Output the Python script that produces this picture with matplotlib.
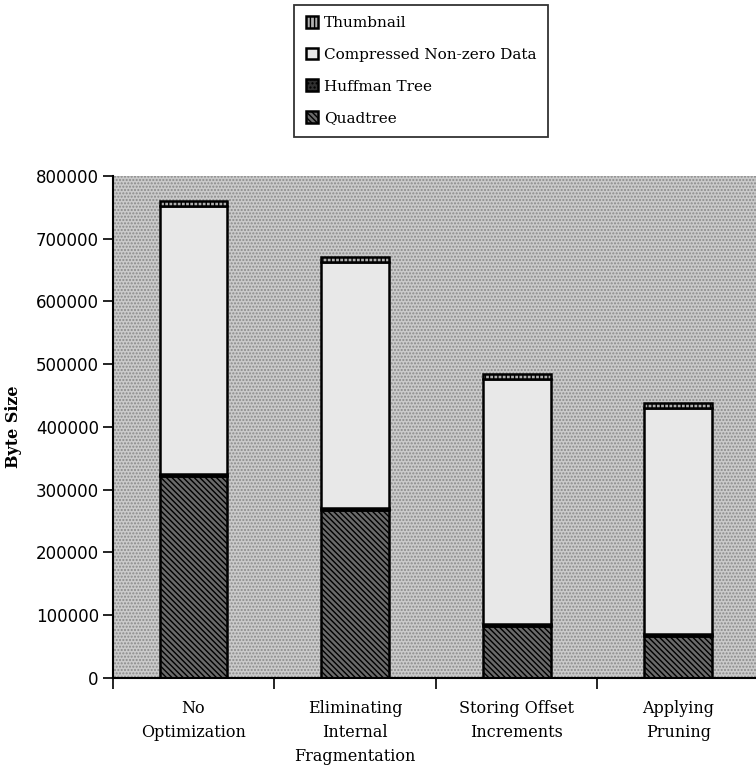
import matplotlib
matplotlib.use('Agg')
import matplotlib.pyplot as plt
from matplotlib.patches import Rectangle
import numpy as np

plt.rcParams['hatch.linewidth'] = 1.0

categories = ['No\nOptimization', 'Eliminating\nInternal\nFragmentation',
              'Storing Offset\nIncrements', 'Applying\nPruning']
quadtree = [322000, 268000, 83000, 67000]
huffman = [3000, 3000, 3000, 3000]
compressed = [427000, 392000, 391000, 360000]
thumbnail = [8000, 8000, 8000, 8000]

fig = plt.figure(figsize=(7.56, 7.72), dpi=100)
ax = fig.add_axes([0.149, 0.122, 0.855, 0.650])

# dotted grey plot area
ax.patch.set_visible(False)
bg = Rectangle((0, 0), 1, 1, transform=ax.transAxes, facecolor='#cacaca',
               edgecolor='#8a8a8a', hatch='.....', linewidth=0, zorder=0)
ax.add_patch(bg)

x = np.arange(len(categories))
w = 0.42
bottom = np.zeros(len(categories))

b1 = ax.bar(x, quadtree, w, bottom=bottom, facecolor='#6a6a6a', edgecolor='black',
            hatch='\\\\\\\\\\\\', linewidth=1.8, label='Quadtree', zorder=2)
bottom += quadtree
b2 = ax.bar(x, huffman, w, bottom=bottom, facecolor='#303030', edgecolor='black',
            hatch='....', linewidth=1.8, label='Huffman Tree', zorder=2)
bottom += huffman
b3 = ax.bar(x, compressed, w, bottom=bottom, facecolor='#e8e8e8', edgecolor='black',
            linewidth=1.8, label='Compressed Non-zero Data', zorder=2)
bottom += compressed
b4 = ax.bar(x, thumbnail, w, bottom=bottom, facecolor='#b0b0b0', edgecolor='black',
            hatch='||||', linewidth=1.8, label='Thumbnail', zorder=2)

ax.set_xlim(-0.5, 3.5)
ax.set_ylim(0, 800000)
ax.set_yticks(np.arange(0, 800001, 100000))
ax.set_yticklabels([str(v) for v in range(0, 800001, 100000)],
                   fontsize=12, family='DejaVu Sans')
ax.tick_params(axis='y', direction='out', length=7, width=1.2, pad=3)

ax.set_xticks(x)
ax.set_xticklabels(categories, fontsize=11.5, family='DejaVu Serif', linespacing=1.55)
ax.tick_params(axis='x', which='major', length=0, pad=16)
ax.set_xticks(np.arange(-0.5, 3.6, 1.0), minor=True)
ax.tick_params(axis='x', which='minor', direction='out', length=8, width=1.2)

for s in ['top', 'right']:
    ax.spines[s].set_visible(False)
for s in ['left', 'bottom']:
    ax.spines[s].set_linewidth(1.5)
    ax.spines[s].set_zorder(3)

ax.set_ylabel('Byte Size', fontsize=11.5, family='DejaVu Serif', fontweight='bold',
              labelpad=10)

leg = fig.legend(handles=[b4, b3, b2, b1], loc='upper left',
                 bbox_to_anchor=(0.383, 1.0),
                 prop={'family': 'DejaVu Serif', 'size': 11},
                 handlelength=0.8, handleheight=0.8, handletextpad=0.4,
                 labelspacing=1.15, borderpad=0.75, borderaxespad=0.3,
                 fancybox=False)
leg.get_frame().set_edgecolor('black')
leg.get_frame().set_linewidth(1.3)

fig.savefig('out.png', dpi=100)
